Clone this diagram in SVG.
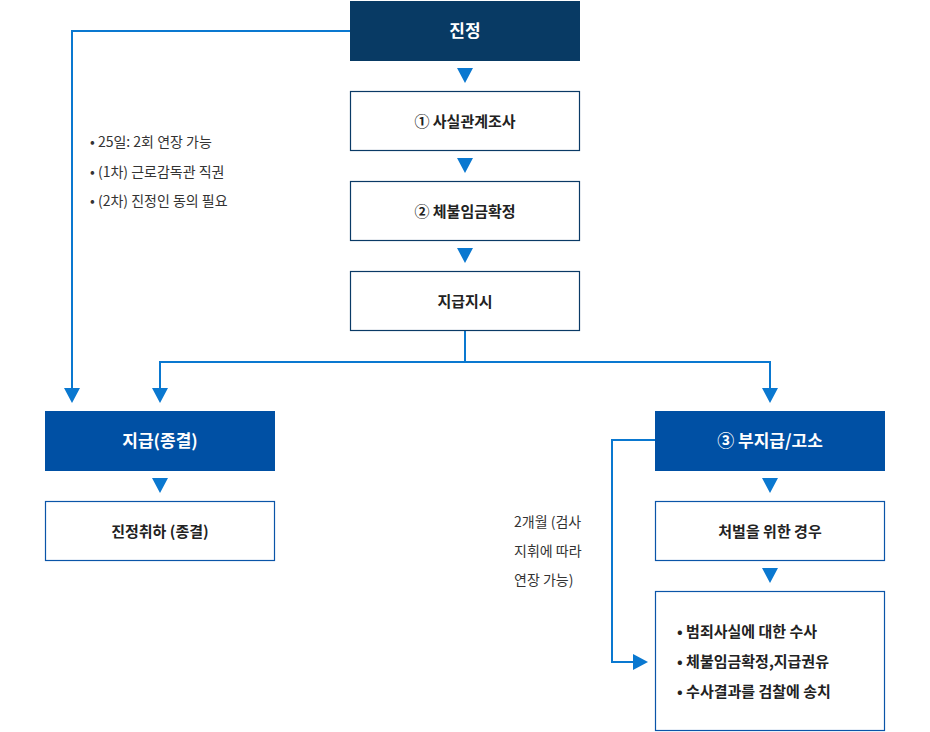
<svg xmlns="http://www.w3.org/2000/svg" width="930" height="732" viewBox="0 0 930 732">
<style>
text{font-family:"Noto Sans CJK KR","Noto Sans",sans-serif;fill:#222;}
.t{font-size:15px;font-weight:700;text-anchor:middle;}
.w{fill:#fff;font-size:17px;}
.n{font-size:14px;fill:#333;}
.bn{fill:#fff;stroke:#0a3a66;stroke-width:1.2;}
.bb{fill:#fff;stroke:#0a55a8;stroke-width:1.2;}
.ln{fill:none;stroke:#0a78d0;stroke-width:2;}
.ar{fill:#0a78d0;}
</style>
<g id="connectors">
<path class="ln" d="M350 31H72V390"/>
<path class="ln" d="M465 330V362H160V390M465 362H770V390"/>
<path class="ln" d="M655 440H612V662H636"/>
<polygon class="ar" points="457,68 473,68 465,83"/>
<polygon class="ar" points="457,158 473,158 465,173"/>
<polygon class="ar" points="457,248 473,248 465,263"/>
<polygon class="ar" points="64,388 80,388 72,403"/>
<polygon class="ar" points="152,388 168,388 160,403"/>
<polygon class="ar" points="762,388 778,388 770,403"/>
<polygon class="ar" points="152,478 168,478 160,493"/>
<polygon class="ar" points="762,478 778,478 770,493"/>
<polygon class="ar" points="762,568 778,568 770,583"/>
<polygon class="ar" points="633,654 633,670 648,662"/>
</g>
<g id="n1"><rect x="350" y="1" width="230" height="60" fill="#083a64"/><text class="t w" x="465" y="37">진정</text></g>
<g id="n2"><rect class="bn" x="350.5" y="91.5" width="229" height="59"/><text class="t" x="465" y="127">① 사실관계조사</text></g>
<g id="n3"><rect class="bn" x="350.5" y="181.5" width="229" height="59"/><text class="t" x="465" y="217">② 체불임금확정</text></g>
<g id="n4"><rect class="bn" x="350.5" y="271.5" width="229" height="59"/><text class="t" x="465" y="307">지급지시</text></g>
<g id="n5"><rect x="45" y="411" width="230" height="60" fill="#0050a4"/><text class="t w" x="160" y="447">지급(종결)</text></g>
<g id="n6"><rect class="bb" x="45.5" y="501.5" width="229" height="59"/><text class="t" x="160" y="537">진정취하 (종결)</text></g>
<g id="n7"><rect x="655" y="411" width="230" height="60" fill="#0050a4"/><text class="t w" x="770" y="447">③ 부지급/고소</text></g>
<g id="n8"><rect class="bb" x="655.5" y="501.5" width="229" height="59"/><text class="t" x="770" y="537">처벌을 위한 경우</text></g>
<g id="n9"><rect class="bb" x="655.5" y="591.5" width="229" height="139"/>
<text class="t" x="677" y="637" style="text-anchor:start">• 범죄사실에 대한 수사</text>
<text class="t" x="677" y="667" style="text-anchor:start">• 체불임금확정,지급권유</text>
<text class="t" x="677" y="697" style="text-anchor:start">• 수사결과를 검찰에 송치</text></g>
<g id="note1">
<text class="n" x="90" y="147">• 25일: 2회 연장 가능</text>
<text class="n" x="90" y="177">• (1차) 근로감독관 직권</text>
<text class="n" x="90" y="206">• (2차) 진정인 동의 필요</text></g>
<g id="note2">
<text class="n" x="514" y="527">2개월 (검사</text>
<text class="n" x="514" y="556">지휘에 따라</text>
<text class="n" x="514" y="585">연장 가능)</text></g>
</svg>
